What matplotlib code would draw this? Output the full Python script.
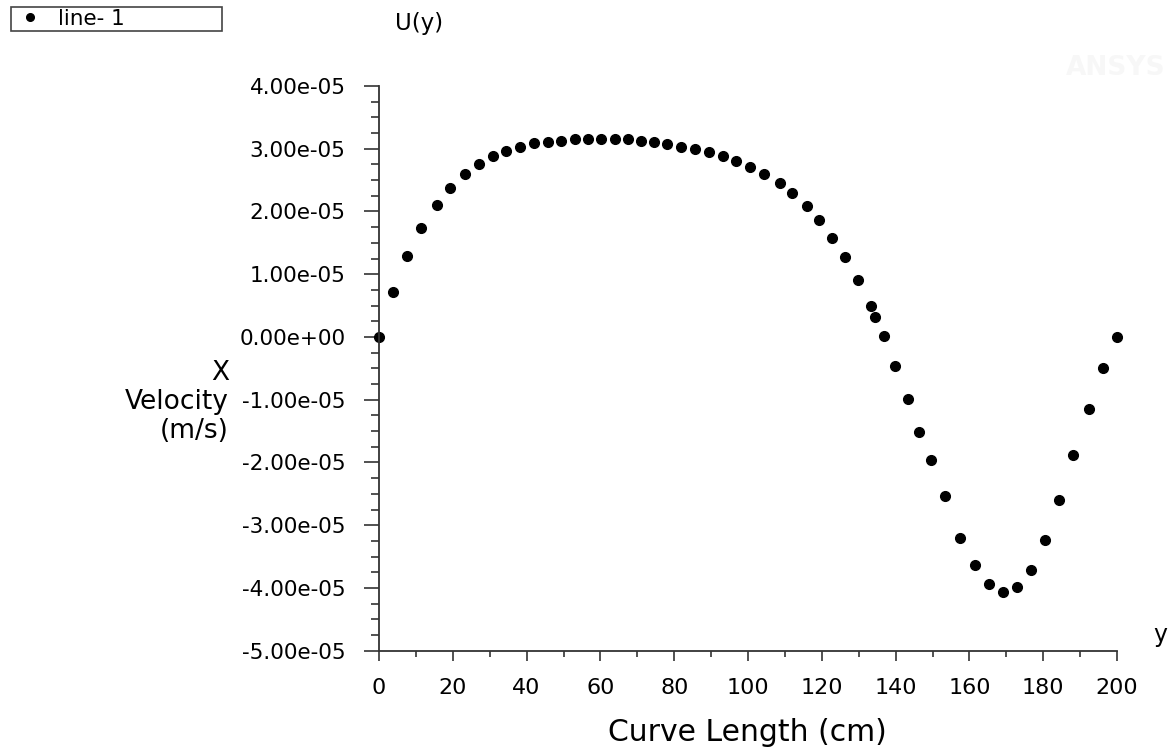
import matplotlib
matplotlib.use("Agg")
import matplotlib.pyplot as plt
from matplotlib.lines import Line2D
from matplotlib.ticker import MultipleLocator, FuncFormatter

# curve length along the line (cm) and x velocity (m/s)
curve_length = [
    0.0, 3.71, 7.67, 11.39, 15.65, 19.33, 23.32, 27.11, 30.91, 34.35,
    38.23, 42.03, 45.91, 49.35, 53.15, 56.67, 60.20, 63.99, 67.43, 70.96,
    74.49, 78.01, 81.81, 85.68, 89.48, 93.28, 96.72, 100.52, 104.31, 108.54,
    111.98, 115.86, 119.31, 122.83, 126.27, 129.80, 133.22, 134.30, 136.74, 139.83,
    143.35, 146.42, 149.59, 153.47, 157.54, 161.41, 165.21, 169.12, 172.80, 176.71,
    180.50, 184.38, 188.18, 192.33, 196.23, 200.0,
]
x_velocity = [
    0.0, 0.714e-5, 1.289e-5, 1.736e-5, 2.109e-5, 2.375e-5, 2.599e-5, 2.764e-5, 2.883e-5, 2.971e-5,
    3.030e-5, 3.094e-5, 3.115e-5, 3.131e-5, 3.158e-5, 3.158e-5, 3.158e-5, 3.158e-5, 3.158e-5, 3.131e-5,
    3.115e-5, 3.073e-5, 3.030e-5, 2.994e-5, 2.951e-5, 2.883e-5, 2.807e-5, 2.706e-5, 2.599e-5, 2.460e-5,
    2.296e-5, 2.088e-5, 1.864e-5, 1.576e-5, 1.268e-5, 0.901e-5, 0.490e-5, 0.326e-5, 0.016e-5, -0.468e-5,
    -0.984e-5, -1.518e-5, -1.954e-5, -2.540e-5, -3.200e-5, -3.631e-5, -3.935e-5, -4.062e-5, -3.978e-5, -3.711e-5,
    -3.236e-5, -2.604e-5, -1.885e-5, -1.150e-5, -0.495e-5, 0.0,
]


def sci_label(v, pos):
    # the locator gives tiny float noise instead of an exact zero
    if abs(v) < 1e-12:
        v = 0.0
    return f"{v:.2e}"


W, H = 1173, 756
fig = plt.figure(figsize=(W / 100, H / 100), dpi=100)
fig.patch.set_facecolor("white")

ax = fig.add_axes([379 / W, 1 - 650.7 / H, (1117 - 379) / W, (650.7 - 86) / H])
ax.plot(curve_length, x_velocity, "o", color="black", markersize=7, clip_on=False)

ax.set_xlim(0, 200)
ax.set_ylim(-5e-5, 4e-5)
for side in ("top", "right"):
    ax.spines[side].set_visible(False)
for side in ("left", "bottom"):
    ax.spines[side].set_color("#333333")
    ax.spines[side].set_linewidth(1.3)

ax.xaxis.set_major_locator(MultipleLocator(20))
ax.xaxis.set_minor_locator(MultipleLocator(10))
ax.yaxis.set_major_locator(MultipleLocator(1e-5))
ax.yaxis.set_minor_locator(MultipleLocator(2.5e-6))
ax.yaxis.set_major_formatter(FuncFormatter(sci_label))

ax.tick_params(axis="y", which="major", length=11, width=1.2, color="#333333",
               pad=13, labelsize=15.5)
ax.tick_params(axis="y", which="minor", length=6, width=1.2, color="#333333")
ax.tick_params(axis="x", which="major", length=7, width=1.2, color="#333333",
               pad=13, labelsize=16)
ax.tick_params(axis="x", which="minor", length=4, width=1.2, color="#333333")

fig.text(747 / W, 1 - 741 / H, "Curve Length (cm)", ha="center", va="baseline",
         fontsize=21.5)
fig.text(229 / W, 1 - 402 / H, "X\nVelocity\n(m/s)", ha="right", va="center",
         multialignment="right", fontsize=19, linespacing=1.15)
fig.text(419 / W, 1 - 30 / H, "U(y)", ha="center", va="baseline", fontsize=16.5)
fig.text(1160 / W, 1 - 642 / H, "y", ha="center", va="baseline", fontsize=17)

# faint watermark in the corner
fig.text(1066 / W, 1 - 68 / H, "ANSYS", ha="left", va="center", fontsize=19,
         fontweight="bold", color="#f7f7f7")

handle = Line2D([], [], marker="o", linestyle="none", color="black", markersize=5.5)
leg = fig.legend([handle], ["line- 1"], loc="upper left",
                 bbox_to_anchor=(11 / W, 1 - 34.7 / H, 211 / W, 28 / H),
                 mode="expand", borderaxespad=0, fancybox=False, framealpha=1,
                 edgecolor="#444444", fontsize=15.5, handlelength=1.6,
                 handletextpad=0.5, borderpad=0.1)
leg.get_frame().set_linewidth(1.2)

fig.savefig("out.png", dpi=100)
